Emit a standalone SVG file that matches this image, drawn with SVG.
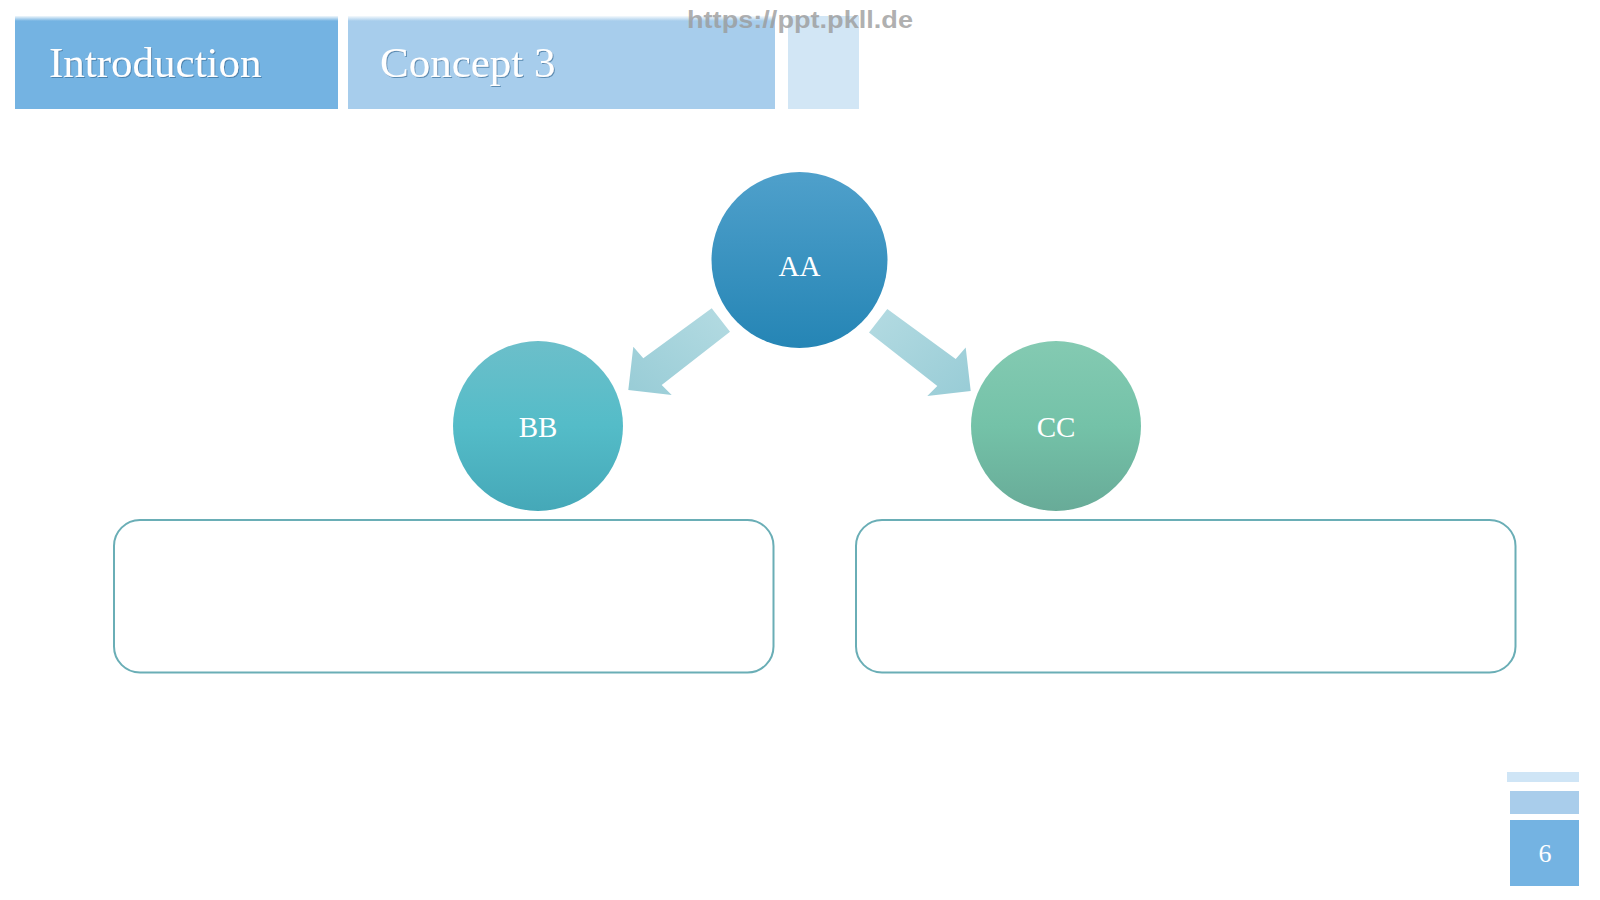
<svg xmlns="http://www.w3.org/2000/svg" width="1600" height="900" viewBox="0 0 1600 900">
<defs>
<linearGradient id="gA" x1="0" y1="0" x2="0" y2="1"><stop offset="0" stop-color="#4fa0cb"/><stop offset="1" stop-color="#2585b5"/></linearGradient>
<linearGradient id="gB" x1="0" y1="0" x2="0" y2="1"><stop offset="0" stop-color="#6cbfca"/><stop offset="0.5" stop-color="#54bcc8"/><stop offset="1" stop-color="#45a8b8"/></linearGradient>
<linearGradient id="gC" x1="0" y1="0" x2="0" y2="1"><stop offset="0" stop-color="#84cab2"/><stop offset="0.5" stop-color="#74c2a8"/><stop offset="1" stop-color="#68ab98"/></linearGradient>
<linearGradient id="gArrL" x1="1" y1="0" x2="0" y2="1"><stop offset="0" stop-color="#b4dbe2"/><stop offset="1" stop-color="#98ccd6"/></linearGradient>
<linearGradient id="gArrR" x1="0" y1="0" x2="1" y2="1"><stop offset="0" stop-color="#b4dbe2"/><stop offset="1" stop-color="#98ccd6"/></linearGradient>
<linearGradient id="gTop" x1="0" y1="0" x2="0" y2="1"><stop offset="0" stop-color="#ffffff" stop-opacity="0.9"/><stop offset="1" stop-color="#ffffff" stop-opacity="0"/></linearGradient>
<filter id="ts" x="-10%" y="-20%" width="120%" height="140%"><feDropShadow dx="1" dy="1" stdDeviation="0.6" flood-color="#3c6f99" flood-opacity="0.7"/></filter>
</defs>
<style>
.hdr{font-family:"Liberation Serif","Times New Roman",serif;font-size:43px;fill:#ffffff;}
.lbl{font-family:"Liberation Serif","Times New Roman",serif;font-size:29px;fill:#ffffff;text-anchor:middle;}
.box{fill:#ffffff;stroke:#6aaeb6;stroke-width:2;}
.wm{font-family:"Liberation Sans",Arial,sans-serif;font-weight:bold;font-size:24px;fill:#9a9a9a;fill-opacity:0.8;}
</style>
<rect width="1600" height="900" fill="#ffffff"/>
<g id="header">
<rect x="15" y="16" width="323" height="93" fill="#74b3e2"/>
<rect x="348" y="16" width="427" height="93" fill="#a7cdec"/>
<rect x="788" y="16" width="71" height="93" fill="#d2e6f5"/>
<rect x="15" y="16" width="323" height="5" fill="url(#gTop)"/>
<rect x="348" y="16" width="427" height="5" fill="url(#gTop)"/>
<text class="hdr" x="49" y="77" filter="url(#ts)">Introduction</text>
<text class="hdr" x="380" y="77" filter="url(#ts)">Concept 3</text>
</g>
<g id="watermark">
<text class="wm" x="687" y="28" textLength="226" lengthAdjust="spacingAndGlyphs">https://ppt.pkll.de</text>
</g>
<g id="connectors">
<polygon points="711.7,308.3 730,331.7 661.7,385 671.7,395 628.3,390 633.3,346.7 643.3,358.3" fill="url(#gArrL)"/>
<polygon points="887.3,309 869,332.5 937.3,386 927.3,396 970.7,391 965.7,347.5 955.7,359" fill="url(#gArrR)"/>
</g>
<g id="node-AA">
<circle cx="799.5" cy="260" r="88" fill="url(#gA)"/>
<text class="lbl" x="799.5" y="276">AA</text>
</g>
<g id="node-BB">
<circle cx="538" cy="426" r="85" fill="url(#gB)"/>
<text class="lbl" x="538" y="437">BB</text>
</g>
<g id="node-CC">
<circle cx="1056" cy="426" r="85" fill="url(#gC)"/>
<text class="lbl" x="1056" y="437">CC</text>
</g>
<g id="box-left">
<rect class="box" x="114" y="520" width="659.5" height="152.5" rx="26" ry="26"/>
</g>
<g id="box-right">
<rect class="box" x="856" y="520" width="659.5" height="152.5" rx="26" ry="26"/>
</g>
<g id="page-number">
<rect x="1507" y="772" width="72" height="10" fill="#cfe5f6"/>
<rect x="1510" y="791" width="69" height="23" fill="#a9cdeb"/>
<rect x="1510" y="820" width="69" height="66" fill="#74b3e2"/>
<text x="1545" y="862" font-family="Liberation Serif, Times New Roman, serif" font-size="26" fill="#ffffff" text-anchor="middle">6</text>
</g>
</svg>
